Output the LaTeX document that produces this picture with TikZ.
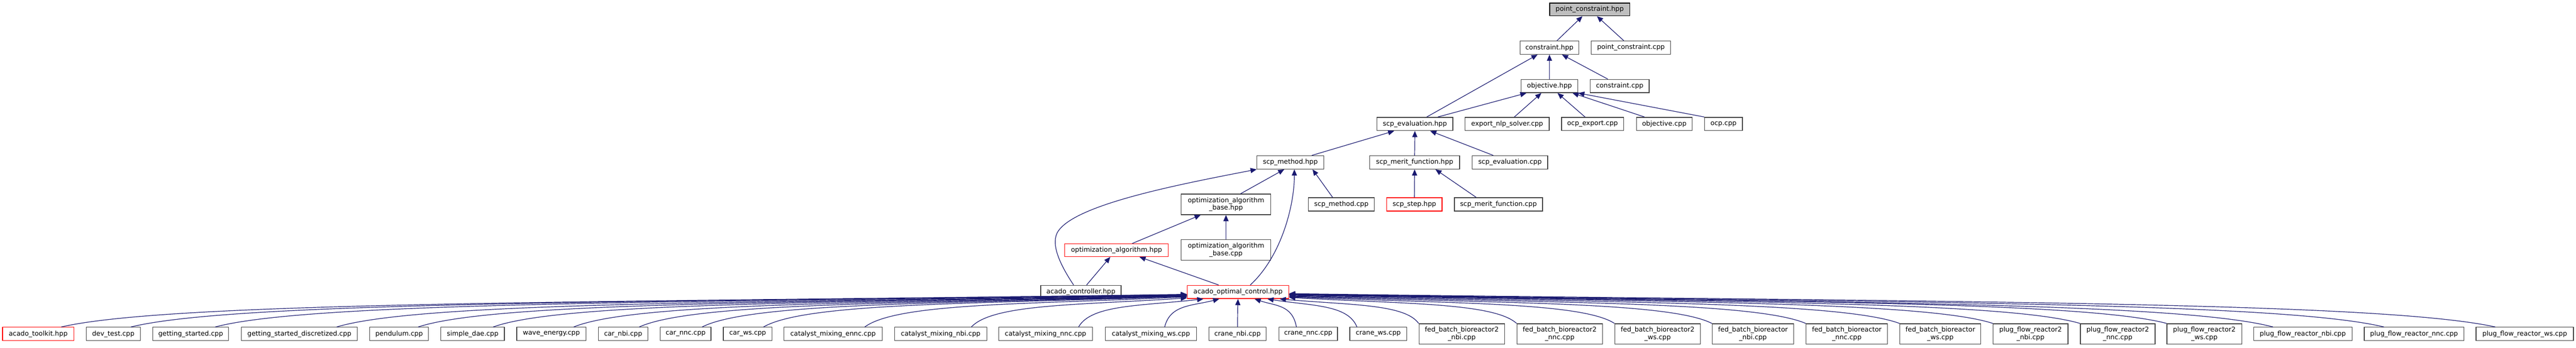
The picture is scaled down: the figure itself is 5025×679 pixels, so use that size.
\documentclass[tikz,border=0pt]{standalone}
\usepackage{fontspec}
\setmainfont{DejaVu Sans}
\usetikzlibrary{arrows.meta,calc}
\definecolor{edgec}{HTML}{191970}
\definecolor{bord}{HTML}{404040}
\definecolor{mainfill}{HTML}{BFBFBF}
\newcommand\nd[7][box]{\node[#1, minimum width={(#4-#3)*1pt}, minimum height={(#6-#5)*1pt}] (#2) at ({(#3+#4)/2},{(#5+#6)/2}) {#7};}
\newcommand\bez[3]{\draw[edge] let \p1=($(#1.north west)!#2!(#1.north east)$), \p2=(#3) in (\p1) .. controls ({\x1+0.1*(\x2-\x1)},{\y1+0.8*(\y2-\y1)}) and ({\x1+0.5*(\x2-\x1)},{\y2-0.25*(\y2-\y1)}) .. (\p2);}
\newcommand\sedge[4]{\draw[edge] ($(#1.north west)!#2!(#1.north east)$) -- ($(#3.south west)!#4!(#3.south east)$);}
\begin{document}
\begin{tikzpicture}[x=1pt,y=-1pt,
  box/.style={draw=bord, line width=1.3pt, fill=white, inner sep=0pt, font=\fontsize{12.9}{14.7}\selectfont, align=center},
  redbox/.style={box, draw=red},
  mainbox/.style={box, draw=black, fill=mainfill},
  edge/.style={draw=edgec, line width=1.2pt, -{Triangle[length=12pt,width=10pt]}}]
\fill[white] (0,0) rectangle (5025,679);
\useasboundingbox (0,0) rectangle (5025,679);
% rows
\nd[mainbox]{pch}{3023}{3179}{6}{31}{point\_constraint.hpp}
\nd{conhpp}{2965}{3080}{80}{106}{constraint.hpp}
\nd{pccpp}{3104}{3259}{80}{106}{point\_constraint.cpp}
\nd{objhpp}{2967}{3078}{155}{181}{objective.hpp}
\nd{concpp}{3102}{3217}{155}{181}{constraint.cpp}
\nd{scpeval}{2686}{2834}{229}{255}{scp\_evaluation.hpp}
\nd{expnlp}{2858}{3022}{229}{255}{export\_nlp\_solver.cpp}
\nd{ocpexp}{3046}{3167}{229}{255}{ocp\_export.cpp}
\nd{objcpp}{3192}{3301}{229}{255}{objective.cpp}
\nd{ocpcpp}{3325}{3399}{229}{255}{ocp.cpp}
\nd{scpmeth}{2452}{2582}{304}{330}{scp\_method.hpp}
\nd{scpmerit}{2672}{2847}{304}{330}{scp\_merit\_function.hpp}
\nd{scpevalcpp}{2872}{3019}{304}{330}{scp\_evaluation.cpp}
\nd{oabhpp}{2304}{2479}{379}{419}{optimization\_algorithm\\\_base.hpp}
\nd{scpmethcpp}{2552}{2681}{386}{412}{scp\_method.cpp}
\nd[redbox]{scpstep}{2705}{2813}{386}{412}{scp\_step.hpp}
\nd{scpmeritcpp}{2837}{3009}{386}{412}{scp\_merit\_function.cpp}
\nd[redbox]{oahpp}{2077}{2279}{476}{501}{optimization\_algorithm.hpp}
\nd{oabcpp}{2304}{2479}{468}{508}{optimization\_algorithm\\\_base.cpp}
\nd{acctrl}{2030}{2187}{557}{583}{acado\_controller.hpp}
\nd[redbox]{aoc}{2316}{2514}{557}{583}{acado\_optimal\_control.hpp}
% bottom row
\nd[redbox]{b1}{5}{144}{639}{665}{acado\_toolkit.hpp}
\nd{b2}{168}{274}{639}{665}{dev\_test.cpp}
\nd{b3}{298}{446}{639}{665}{getting\_started.cpp}
\nd{b4}{471}{697}{639}{665}{getting\_started\_discretized.cpp}
\nd{b5}{721}{836}{639}{665}{pendulum.cpp}
\nd{b6}{860}{984}{639}{665}{simple\_dae.cpp}
\nd{b7}{1008}{1143}{639}{665}{wave\_energy.cpp}
\nd{b8}{1167}{1264}{639}{665}{car\_nbi.cpp}
\nd{b9}{1288}{1387}{639}{665}{car\_nnc.cpp}
\nd{b10}{1411}{1506}{639}{665}{car\_ws.cpp}
\nd{b11}{1529}{1721}{639}{665}{catalyst\_mixing\_ennc.cpp}
\nd{b12}{1745}{1925}{639}{665}{catalyst\_mixing\_nbi.cpp}
\nd{b13}{1948}{2131}{639}{665}{catalyst\_mixing\_nnc.cpp}
\nd{b14}{2156}{2334}{639}{665}{catalyst\_mixing\_ws.cpp}
\nd{b15}{2358}{2470}{639}{665}{crane\_nbi.cpp}
\nd{b16}{2495}{2609}{639}{665}{crane\_nnc.cpp}
\nd{b17}{2633}{2744}{639}{665}{crane\_ws.cpp}
\nd{b18}{2768}{2935}{632}{672}{fed\_batch\_bioreactor2\\\_nbi.cpp}
\nd{b19}{2959}{3126}{632}{672}{fed\_batch\_bioreactor2\\\_nnc.cpp}
\nd{b20}{3150}{3317}{632}{672}{fed\_batch\_bioreactor2\\\_ws.cpp}
\nd{b21}{3340}{3499}{632}{672}{fed\_batch\_bioreactor\\\_nbi.cpp}
\nd{b22}{3523}{3682}{632}{672}{fed\_batch\_bioreactor\\\_nnc.cpp}
\nd{b23}{3706}{3864}{632}{672}{fed\_batch\_bioreactor\\\_ws.cpp}
\nd{b24}{3888}{4034}{632}{672}{plug\_flow\_reactor2\\\_nbi.cpp}
\nd{b25}{4058}{4204}{632}{672}{plug\_flow\_reactor2\\\_nnc.cpp}
\nd{b26}{4227}{4373}{632}{672}{plug\_flow\_reactor2\\\_ws.cpp}
\nd{b27}{4396}{4588}{639}{665}{plug\_flow\_reactor\_nbi.cpp}
\nd{b28}{4612}{4806}{639}{665}{plug\_flow\_reactor\_nnc.cpp}
\nd{b29}{4830}{5020}{639}{665}{plug\_flow\_reactor\_ws.cpp}
% upper edges
\sedge{conhpp}{0.626}{pch}{0.41}
\sedge{pccpp}{0.41}{pch}{0.59}
\sedge{scpeval}{0.655}{conhpp}{0.30}
\sedge{objhpp}{0.5}{conhpp}{0.5}
\sedge{concpp}{0.30}{conhpp}{0.71}
\sedge{scpeval}{0.80}{objhpp}{0.10}
\sedge{expnlp}{0.585}{objhpp}{0.36}
\sedge{ocpexp}{0.38}{objhpp}{0.64}
\sedge{objcpp}{0.15}{objhpp}{0.90}
\draw[edge] (ocpcpp.north west) -- (objhpp.south east);
\sedge{scpmeth}{0.82}{scpeval}{0.23}
\sedge{scpmerit}{0.5}{scpeval}{0.5}
\sedge{scpevalcpp}{0.28}{scpeval}{0.70}
\sedge{oabhpp}{0.66}{scpmeth}{0.41}
\sedge{scpmethcpp}{0.37}{scpmeth}{0.83}
\sedge{scpstep}{0.5}{scpmerit}{0.5}
\sedge{scpmeritcpp}{0.25}{scpmerit}{0.73}
\sedge{oahpp}{0.65}{oabhpp}{0.22}
\sedge{oabcpp}{0.5}{oabhpp}{0.5}
\sedge{acctrl}{0.57}{oahpp}{0.44}
\sedge{aoc}{0.31}{oahpp}{0.72}
\draw[edge] ($(acctrl.north west)!0.41!(acctrl.north east)$) .. controls (2070,520) and (2050,480) .. (2062,455) .. controls (2090,400) and (2300,360) .. (scpmeth.south west);
\draw[edge] ($(aoc.north west)!0.62!(aoc.north east)$) .. controls (2500,500) and (2525,400) .. ($(scpmeth.south west)!0.56!(scpmeth.south east)$);
% bottom edges
\bez{b1}{0.82}{$(aoc.south west)+(0,-9)$}
\bez{b2}{0.82}{$(aoc.south west)+(0,-9)$}
\bez{b3}{0.82}{$(aoc.south west)+(0,-8.5)$}
\bez{b4}{0.82}{$(aoc.south west)+(0,-8)$}
\bez{b5}{0.82}{$(aoc.south west)+(0,-7.5)$}
\bez{b6}{0.82}{$(aoc.south west)+(0,-7)$}
\bez{b7}{0.82}{$(aoc.south west)+(0,-6.5)$}
\bez{b8}{0.82}{$(aoc.south west)+(0,-6)$}
\bez{b9}{0.82}{$(aoc.south west)+(0,-5.5)$}
\bez{b10}{0.82}{$(aoc.south west)+(0,-5)$}
\bez{b11}{0.82}{$(aoc.south west)+(0,-4)$}
\bez{b12}{0.83}{$(aoc.south west)+(0,-2)$}
\bez{b13}{0.85}{$(aoc.south west)+(32,0)$}
\bez{b14}{0.65}{$(aoc.south west)+(63,0)$}
\bez{b15}{0.5}{aoc.south}
\bez{b16}{0.3}{$(aoc.south west)+(132,0)$}
\bez{b17}{0.13}{$(aoc.south west)+(157,0)$}
\bez{b18}{0.0}{$(aoc.south west)+(181,0)$}
\bez{b19}{0.0}{$(aoc.south east)+(0,-3)$}
\bez{b20}{0.0}{$(aoc.south east)+(0,-4)$}
\bez{b21}{0.0}{$(aoc.south east)+(0,-5)$}
\bez{b22}{0.0}{$(aoc.south east)+(0,-6)$}
\bez{b23}{0.0}{$(aoc.south east)+(0,-7)$}
\bez{b24}{0.0}{$(aoc.south east)+(0,-8)$}
\bez{b25}{0.0}{$(aoc.south east)+(0,-8.5)$}
\bez{b26}{0.0}{$(aoc.south east)+(0,-9)$}
\bez{b27}{0.2}{$(aoc.south east)+(0,-9.5)$}
\bez{b28}{0.2}{$(aoc.south east)+(0,-10)$}
\bez{b29}{0.2}{$(aoc.south east)+(0,-10.5)$}
\end{tikzpicture}
\end{document}
